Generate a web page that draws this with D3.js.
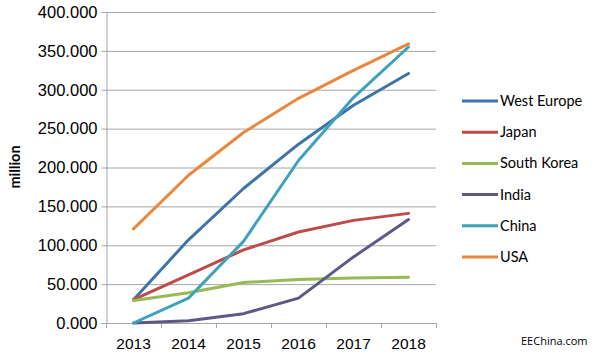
<!DOCTYPE html>
<html><head><meta charset="utf-8">
<script src="https://cdn.jsdelivr.net/npm/d3@7"></script>
<style>
body{margin:0;background:#fff;}
svg{display:block;font-family:Lato,"Open Sans",sans-serif;}
</style></head>
<body><svg id="c" width="600" height="358"></svg>
<script>
const years = ["2013","2014","2015","2016","2017","2018"];
const seriesNames = ["West Europe","Japan","South Korea","India","China","USA"];
const westEurope = [30,107,173,230,280,321];
const japan = [30,62,94,117,132,141];
const southKorea = [29,39,52,56,58,59];
const india = [0,3,12,32,85,133];
const china = [0,32,105,209,290,355];
const usa = [121,190,245,289,325,359];
const yTicks = [0,50,100,150,200,250,300,350,400];
const colors = ["#3F74A9","#BE4B48","#98B954","#5C5A85","#3EA2BC","#E8883F"];

const series = [westEurope,japan,southKorea,india,china,usa].map((v,i)=>({name:seriesNames[i],values:v,color:colors[i]}));

const svg = d3.select("#c");
const L=106,R=436,T=12,B=323;
const x = d3.scaleBand().domain(years).range([L,R]);
const y = d3.scaleLinear().domain([0,400]).range([B,T]);

// gridlines
svg.append("g").selectAll("line").data(yTicks).join("line")
 .attr("x1",L).attr("x2",R).attr("y1",d=>y(d)+0.5).attr("y2",d=>y(d)+0.5)
 .attr("stroke","#A6A6A6").attr("stroke-width",1);

// y axis
const ya = svg.append("g").attr("transform",`translate(${L+0.5},0)`)
 .call(d3.axisLeft(y).tickValues(yTicks).tickSize(5).tickPadding(4).tickFormat(d=>d.toFixed(0)+".000"));
ya.select(".domain").attr("stroke","#A6A6A6");
ya.selectAll(".tick line").attr("stroke","#A6A6A6");
ya.selectAll("text").attr("font-size",16.5).attr("fill","#000");

// x axis
const xa = svg.append("g").attr("transform",`translate(0,${B+0.5})`)
 .call(d3.axisBottom(x).tickSize(0).tickPadding(14));
xa.select(".domain").remove();
xa.selectAll("text").attr("font-size",15.5).attr("fill","#000");
svg.append("g").selectAll("line").data(d3.range(years.length+1)).join("line")
 .attr("x1",i=>Math.round(L+i*x.step())+0.5).attr("x2",i=>Math.round(L+i*x.step())+0.5)
 .attr("y1",B).attr("y2",B+5).attr("stroke","#A6A6A6");

// axis title
svg.append("text").attr("transform","translate(20,167) rotate(-90)")
 .attr("text-anchor","middle").attr("font-size",14.5).attr("font-weight","bold").text("million");

// lines
const line = d3.line().x((d,i)=>x(years[i])+x.bandwidth()/2).y(d=>y(d));
svg.append("g").selectAll("path").data(series).join("path")
 .attr("d",d=>line(d.values)).attr("fill","none").attr("stroke",d=>d.color)
 .attr("stroke-width",3).attr("stroke-linejoin","round").attr("stroke-linecap","round");

// legend
const lg = svg.append("g").selectAll("g").data(series).join("g")
 .attr("transform",(d,i)=>`translate(462,${101+i*31.2})`);
lg.append("line").attr("x1",0).attr("x2",36).attr("stroke",d=>d.color).attr("stroke-width",3);
lg.append("text").attr("x",38).attr("dy","0.35em").attr("font-size",14.5).text(d=>d.name);

svg.append("text").attr("x",521).attr("y",345).attr("font-size",11).attr("font-family","'Open Sans',sans-serif").text("EEChina.com");
</script></body></html>
